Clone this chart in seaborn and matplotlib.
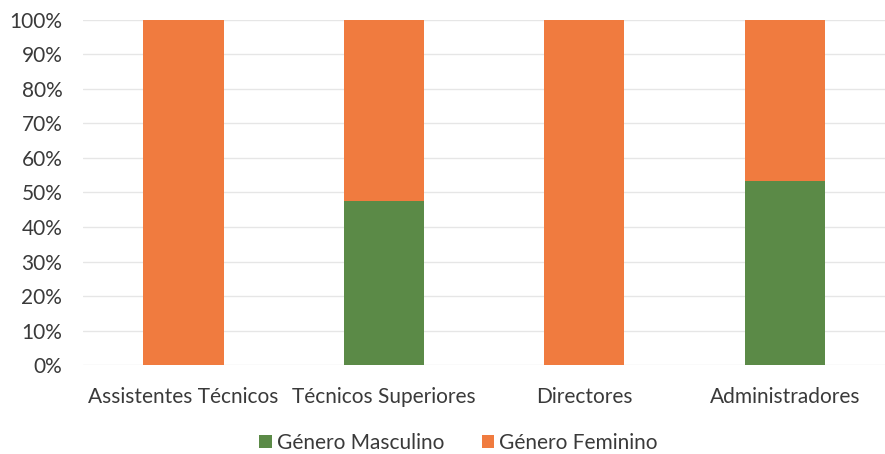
import matplotlib
matplotlib.use("Agg")
import matplotlib.pyplot as plt
import seaborn as sns
import pandas as pd
from matplotlib.ticker import PercentFormatter
from matplotlib.patches import Patch

categories = ["Assistentes Técnicos", "Técnicos Superiores", "Directores", "Administradores"]
masculino = [0.0, 0.476, 0.0, 0.533]
feminino = [1.0, 0.524, 1.0, 0.467]
series_labels = ["Género Masculino", "Género Feminino"]
colors = ["#5B8A47", "#F07B3F"]

sns.set_theme(style="white")
plt.rcParams["font.family"] = ["Lato", "DejaVu Sans"]
text_color = "#3A3A3A"
fs = 15

df = pd.DataFrame({
    "categoria": categories,
    "masculino": masculino,
    "total": [m + f for m, f in zip(masculino, feminino)],
})

fig = plt.figure(figsize=(8.85, 4.54), dpi=100)
ax = fig.add_axes([0.094, 0.196, 0.906, 0.76])

# stacked bars: the full-height bar carries the female share above the male one
sns.barplot(data=df, x="categoria", y="total", color=colors[1], width=0.4,
            saturation=1, linewidth=0, ax=ax, zorder=2)
sns.barplot(data=df, x="categoria", y="masculino", color=colors[0], width=0.4,
            saturation=1, linewidth=0, ax=ax, zorder=3)

ax.set_ylim(0, 1)
ax.set_xlim(-0.5, 3.5)
ax.set_yticks([i / 10 for i in range(11)])
ax.yaxis.set_major_formatter(PercentFormatter(1.0, decimals=0))
ax.grid(axis="y", color="#E6E6E6", linewidth=1, zorder=0)
ax.set_axisbelow(True)
for s in ax.spines.values():
    s.set_visible(False)
ax.set_xlabel("")
ax.set_ylabel("")
ax.tick_params(axis="both", length=0, labelsize=fs, colors=text_color)
ax.tick_params(axis="y", pad=15)
ax.tick_params(axis="x", pad=16)

handles = [Patch(facecolor=c, edgecolor="none", label=l) for c, l in zip(colors, series_labels)]
fig.legend(handles=handles, loc="center", bbox_to_anchor=(0.518, 0.024), ncol=2,
           frameon=False, fontsize=fs, handlelength=0.6, handleheight=0.6,
           handletextpad=0.25, columnspacing=1.8, labelcolor=text_color)

fig.savefig("out.png", dpi=100)
